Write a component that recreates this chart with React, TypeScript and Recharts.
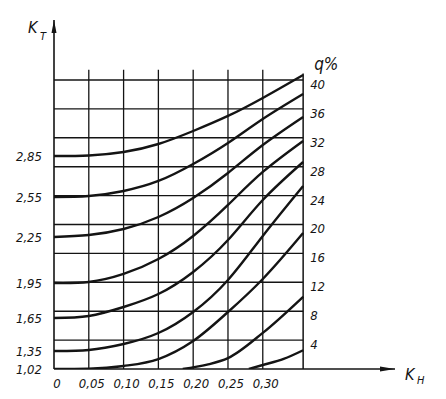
import React from 'react';
import { ComposedChart, Line, XAxis, YAxis, ReferenceLine, ReferenceDot } from 'recharts';

// K_H axis ticks
const kHTicks = [0, 0.05, 0.1, 0.15, 0.2, 0.25, 0.3];
const kHTickLabels = ['0', '0,05', '0,10', '0,15', '0,20', '0,25', '0,30'];
const kHGrid = [0.05, 0.1, 0.15, 0.2, 0.25, 0.3];
const kHEnd = 0.358; // right border of the grid
const kHAxisEnd = 0.49; // tip of the K_H arrow

// vertical scale in q% units (grid lines every 4 %)
const qTicks = [4, 8, 12, 16, 20, 24, 28, 32, 36, 40];
const qTop = 48.3; // tip of the K_T arrow
const gridTop = 41.4; // top of vertical grid lines
const rightBorderTop = 40.9;

// K_T labels at the start of each curve (K_H = 0)
const kTLabels = ['2,85', '2,55', '2,25', '1,95', '1,65', '1,35', '1,02'];

type P = { k: number; v: number };
const curve1: P[] = [
  { k: 0, v: 29.48 }, { k: 0.05, v: 29.55 }, { k: 0.1, v: 30.03 }, { k: 0.15, v: 31.14 },
  { k: 0.2, v: 32.94 }, { k: 0.25, v: 35.02 }, { k: 0.3, v: 37.51 }, { k: 0.358, v: 40.69 },
];
const curve2: P[] = [
  { k: 0, v: 23.81 }, { k: 0.05, v: 23.94 }, { k: 0.1, v: 24.64 }, { k: 0.15, v: 26.02 },
  { k: 0.2, v: 28.37 }, { k: 0.25, v: 31.28 }, { k: 0.3, v: 34.6 }, { k: 0.358, v: 38.06 },
];
const curve3: P[] = [
  { k: 0, v: 18.27 }, { k: 0.05, v: 18.55 }, { k: 0.1, v: 19.38 }, { k: 0.15, v: 21.04 },
  { k: 0.2, v: 23.67 }, { k: 0.25, v: 27.13 }, { k: 0.3, v: 31.0 }, { k: 0.358, v: 34.88 },
];
const curve4: P[] = [
  { k: 0, v: 11.9 }, { k: 0.05, v: 12.04 }, { k: 0.1, v: 13.15 }, { k: 0.15, v: 15.22 },
  { k: 0.2, v: 18.41 }, { k: 0.25, v: 22.7 }, { k: 0.3, v: 27.27 }, { k: 0.358, v: 31.56 },
];
const curve5: P[] = [
  { k: 0, v: 7.06 }, { k: 0.05, v: 7.34 }, { k: 0.1, v: 8.58 }, { k: 0.15, v: 10.38 },
  { k: 0.2, v: 13.43 }, { k: 0.25, v: 17.85 }, { k: 0.3, v: 23.39 }, { k: 0.358, v: 28.65 },
];
const curve6: P[] = [
  { k: 0, v: 2.49 }, { k: 0.05, v: 2.63 }, { k: 0.1, v: 3.46 }, { k: 0.15, v: 4.98 },
  { k: 0.2, v: 7.89 }, { k: 0.25, v: 12.32 }, { k: 0.3, v: 18.41 }, { k: 0.358, v: 25.33 },
];
const curve7: P[] = [
  { k: 0, v: 0 }, { k: 0.05, v: 0.05 }, { k: 0.1, v: 0.42 }, { k: 0.15, v: 1.38 },
  { k: 0.2, v: 3.88 }, { k: 0.25, v: 7.89 }, { k: 0.3, v: 12.46 }, { k: 0.358, v: 18.82 },
];
const curve8: P[] = [
  { k: 0.185, v: 0 }, { k: 0.22, v: 0.6 }, { k: 0.25, v: 1.5 }, { k: 0.3, v: 5.0 }, { k: 0.358, v: 10.0 },
];
const curve9: P[] = [
  { k: 0.28, v: 0 }, { k: 0.3, v: 0.55 }, { k: 0.33, v: 1.4 }, { k: 0.358, v: 2.6 },
];

const smoothCurves = [curve1, curve2, curve3, curve4, curve5, curve6];
const baseCurves = [curve7, curve8, curve9];
const startCurves = [curve1, curve2, curve3, curve4, curve5, curve6, curve7];
const kTTicks = startCurves.map((c) => c[0].v);

const INK = '#141414';
const FONT = "'DejaVu Sans Condensed', 'DejaVu Sans', sans-serif";

const textStyle = {
  fill: INK,
  fontFamily: FONT,
  fontStyle: 'italic' as const,
  fontSize: 13,
};

export default function App() {
  return (
    <ComposedChart
      width={430}
      height={385}
      margin={{ top: 12, right: 43, bottom: 0, left: 0 }}
    >
      <XAxis
        type="number"
        dataKey="k"
        domain={[0, kHAxisEnd]}
        ticks={kHTicks}
        interval={0}
        tickFormatter={(v: number) => kHTickLabels[kHTicks.indexOf(v)] ?? ''}
        tickLine={false}
        tickMargin={4}
        height={24}
        axisLine={{ stroke: INK, strokeWidth: 1.6 }}
        tick={{ ...textStyle, dx: 3 }}
        allowDataOverflow
      />
      <YAxis
        type="number"
        domain={[0, qTop]}
        ticks={kTTicks}
        interval={0}
        tickFormatter={(v: number) => kTLabels[kTTicks.indexOf(v)] ?? ''}
        tickLine={false}
        tickMargin={6}
        width={46}
        axisLine={{ stroke: INK, strokeWidth: 1.6 }}
        tick={textStyle}
        allowDataOverflow
      />

      {kHGrid.map((k) => (
        <ReferenceLine
          key={'v' + k}
          segment={[{ x: k, y: 0 }, { x: k, y: gridTop }]}
          stroke={INK}
          strokeWidth={1.3}
          ifOverflow="visible"
        />
      ))}
      {qTicks.map((q) => (
        <ReferenceLine
          key={'h' + q}
          segment={[{ x: 0, y: q }, { x: kHEnd, y: q }]}
          stroke={INK}
          strokeWidth={1.4}
          ifOverflow="visible"
        />
      ))}
      <ReferenceLine
        segment={[{ x: kHEnd, y: 0 }, { x: kHEnd, y: rightBorderTop }]}
        stroke={INK}
        strokeWidth={1.5}
        ifOverflow="visible"
      />

      {smoothCurves.map((c, i) => (
        <Line
          key={'s' + i}
          data={c}
          dataKey="v"
          type="natural"
          stroke={INK}
          strokeWidth={2.4}
          dot={false}
          activeDot={false}
          isAnimationActive={false}
        />
      ))}
      {baseCurves.map((c, i) => (
        <Line
          key={'b' + i}
          data={c}
          dataKey="v"
          type="monotone"
          stroke={INK}
          strokeWidth={2.4}
          dot={false}
          activeDot={false}
          isAnimationActive={false}
        />
      ))}

      {qTicks.map((q) => (
        <ReferenceDot
          key={'q' + q}
          x={kHEnd}
          y={q}
          ifOverflow="visible"
          shape={(p: any) => (
            <text x={p.cx + 7} y={p.cy + 9} {...textStyle}>
              {q}
            </text>
          )}
        />
      ))}

      {/* arrow heads */}
      <ReferenceDot
        x={0}
        y={qTop}
        ifOverflow="visible"
        shape={(p: any) => (
          <path d={`M${p.cx},${p.cy} L${p.cx - 2.5},${p.cy + 13} L${p.cx + 2.5},${p.cy + 13} Z`} fill={INK} />
        )}
      />
      <ReferenceDot
        x={kHAxisEnd}
        y={0}
        ifOverflow="visible"
        shape={(p: any) => (
          <path d={`M${p.cx},${p.cy} L${p.cx - 15},${p.cy - 2.5} L${p.cx - 15},${p.cy + 2.5} Z`} fill={INK} />
        )}
      />

      {/* axis titles */}
      <ReferenceDot
        x={0}
        y={qTop}
        ifOverflow="visible"
        shape={(p: any) => (
          <g>
            <text x={p.cx - 26} y={p.cy + 13} {...textStyle} fontSize={16}>K</text>
            <text x={p.cx - 14} y={p.cy + 20} {...textStyle} fontSize={11}>T</text>
          </g>
        )}
      />
      <ReferenceDot
        x={kHAxisEnd}
        y={0}
        ifOverflow="visible"
        shape={(p: any) => (
          <g>
            <text x={p.cx + 10} y={p.cy + 11} {...textStyle} fontSize={16}>K</text>
            <text x={p.cx + 22} y={p.cy + 15} {...textStyle} fontSize={11}>H</text>
          </g>
        )}
      />
      <ReferenceDot
        x={kHEnd}
        y={qTop}
        ifOverflow="visible"
        shape={(p: any) => (
          <text x={p.cx + 11} y={p.cy + 50} {...textStyle} fontSize={17}>q%</text>
        )}
      />
    </ComposedChart>
  );
}
